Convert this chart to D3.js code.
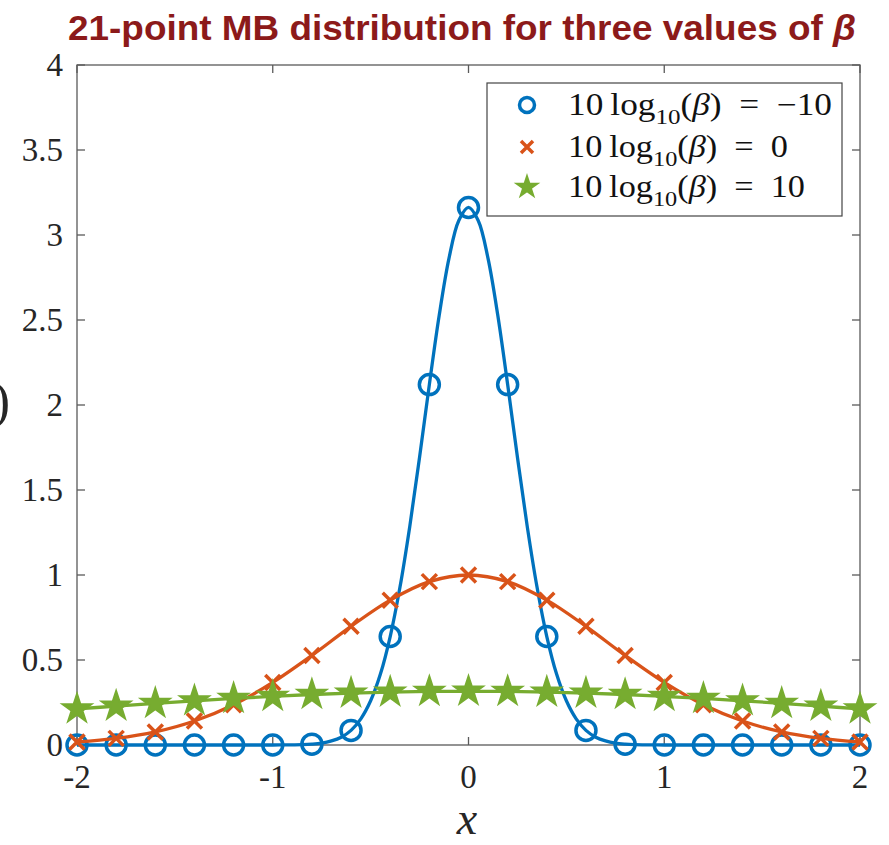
<!DOCTYPE html>
<html>
<head>
<meta charset="utf-8">
<script src="https://cdn.jsdelivr.net/npm/d3@7"></script>
<style>
  body { margin: 0; background: #fff; }
  svg text { font-family: "Liberation Serif", "DejaVu Serif", serif; }
</style>
</head>
<body>
<div id="chart"></div>
<script>
// marker positions (21 points)
const xPoints = [-2, -1.8, -1.6, -1.4, -1.2, -1, -0.8, -0.6, -0.4, -0.2, 0,
                 0.2, 0.4, 0.6, 0.8, 1, 1.2, 1.4, 1.6, 1.8, 2];
const blueMarkers = [0, 0, 0, 0, 0, 0.0001, 0.005, 0.086, 0.638, 2.12, 3.162,
                     2.12, 0.638, 0.086, 0.005, 0.0001, 0, 0, 0, 0, 0];
const orangeMarkers = [0.018, 0.039, 0.077, 0.141, 0.237, 0.368, 0.527, 0.698, 0.852, 0.961, 1.0,
                       0.961, 0.852, 0.698, 0.527, 0.368, 0.237, 0.141, 0.077, 0.039, 0.018];
const greenMarkers = [0.212, 0.229, 0.245, 0.26, 0.274, 0.286, 0.297, 0.305, 0.311, 0.315, 0.316,
                      0.315, 0.311, 0.305, 0.297, 0.286, 0.274, 0.26, 0.245, 0.229, 0.212];

// finer samples for the narrow blue curve
const xFine = [-2, -1.5, -1, -0.95, -0.9, -0.85, -0.8, -0.75, -0.7, -0.65, -0.6, -0.55, -0.5,
               -0.45, -0.4, -0.35, -0.3, -0.25, -0.2, -0.15, -0.1, -0.05, 0,
               0.05, 0.1, 0.15, 0.2, 0.25, 0.3, 0.35, 0.4, 0.45, 0.5, 0.55, 0.6,
               0.65, 0.7, 0.75, 0.8, 0.85, 0.9, 0.95, 1, 1.5, 2];
const blueFine = [0, 0, 0.0001, 0.0004, 0.001, 0.002, 0.005, 0.011, 0.024, 0.046, 0.086, 0.154, 0.26,
                  0.417, 0.638, 0.929, 1.286, 1.693, 2.12, 2.525, 2.861, 3.084, 3.162,
                  3.084, 2.861, 2.525, 2.12, 1.693, 1.286, 0.929, 0.638, 0.417, 0.26, 0.154, 0.086,
                  0.046, 0.024, 0.011, 0.005, 0.002, 0.001, 0.0004, 0.0001, 0, 0];

const seriesNames = ["-10", "0", "10"];
const seriesColors = ["#0072BD", "#D95319", "#77AC30"];
const xTicks = [-2, -1, 0, 1, 2];
const yTicks = [0, 0.5, 1, 1.5, 2, 2.5, 3, 3.5, 4];
const yTickLabels = ["0", "0.5", "1", "1.5", "2", "2.5", "3", "3.5", "4"];

const WIDTH = 889, HEIGHT = 845;
const LEFT = 77, RIGHT = 860, TOP = 65, BOTTOM = 745;

let svg = d3.select("#chart").append("svg")
    .attr("width", WIDTH)
    .attr("height", HEIGHT);

let xScale = d3.scaleLinear().domain([-2, 2]).range([LEFT, RIGHT]);
let yScale = d3.scaleLinear().domain([0, 4]).range([BOTTOM, TOP]);

// title
svg.append("text")
    .attr("x", 68)
    .attr("y", 40)
    .attr("textLength", 788)
    .attr("lengthAdjust", "spacingAndGlyphs")
    .style("font-family", "'Liberation Sans', Arial, sans-serif")
    .style("font-weight", "bold")
    .style("font-size", "35px")
    .attr("fill", "#8c1a1a")
    .text("21-point MB distribution for three values of ")
    .append("tspan")
    .style("font-style", "italic")
    .text("β");

// axes box
const AXIS_COLOR = "#5a5a5a";
svg.append("rect")
    .attr("x", LEFT).attr("y", TOP)
    .attr("width", RIGHT - LEFT).attr("height", BOTTOM - TOP)
    .attr("fill", "none")
    .attr("stroke", AXIS_COLOR)
    .attr("stroke-width", 1.3);

// ticks, inward on all four sides
const TICK = 8;
let tickG = svg.append("g").attr("stroke", AXIS_COLOR).attr("stroke-width", 1.3);
xTicks.forEach(t => {
    tickG.append("line").attr("x1", xScale(t)).attr("x2", xScale(t)).attr("y1", BOTTOM).attr("y2", BOTTOM - TICK);
    tickG.append("line").attr("x1", xScale(t)).attr("x2", xScale(t)).attr("y1", TOP).attr("y2", TOP + TICK);
});
yTicks.forEach(t => {
    tickG.append("line").attr("x1", LEFT).attr("x2", LEFT + TICK).attr("y1", yScale(t)).attr("y2", yScale(t));
    tickG.append("line").attr("x1", RIGHT).attr("x2", RIGHT - TICK).attr("y1", yScale(t)).attr("y2", yScale(t));
});

// tick labels
svg.append("g").selectAll("text")
    .data(xTicks)
    .enter().append("text")
    .attr("x", d => xScale(d))
    .attr("y", BOTTOM + 43)
    .attr("text-anchor", "middle")
    .style("font-size", "33px")
    .attr("fill", "#262626")
    .text(d => String(d));

svg.append("g").selectAll("text")
    .data(yTicks)
    .enter().append("text")
    .attr("x", LEFT - 14)
    .attr("y", d => yScale(d) + 11)
    .attr("text-anchor", "end")
    .style("font-size", "33px")
    .attr("fill", "#262626")
    .text((d, i) => yTickLabels[i]);

// axis labels
svg.append("text")
    .attr("x", 467)
    .attr("y", 834)
    .attr("text-anchor", "middle")
    .style("font-size", "46px")
    .style("font-style", "italic")
    .attr("fill", "#262626")
    .text("x");

svg.append("text")
    .attr("x", 10)
    .attr("y", 418)
    .attr("text-anchor", "end")
    .style("font-size", "52px")
    .attr("fill", "#262626")
    .text("f(x)");

// lines
let line = d3.line()
    .x(d => xScale(d[0]))
    .y(d => yScale(d[1]))
    .curve(d3.curveCatmullRom);

let lineData = [
    d3.zip(xFine, blueFine),
    d3.zip(xPoints, orangeMarkers),
    d3.zip(xPoints, greenMarkers)
];
let markerData = [
    d3.zip(xPoints, blueMarkers),
    d3.zip(xPoints, orangeMarkers),
    d3.zip(xPoints, greenMarkers)
];

const starPath = d3.symbol().type(d3.symbolStar);

function drawMarker(g, kind, x, y, size, color) {
    if (kind === 0) {
        g.append("circle")
            .attr("cx", x).attr("cy", y).attr("r", size)
            .attr("fill", "none")
            .attr("stroke", color)
            .attr("stroke-width", 3.5);
    } else if (kind === 1) {
        g.append("path")
            .attr("d", `M${x - size},${y - size}L${x + size},${y + size}M${x - size},${y + size}L${x + size},${y - size}`)
            .attr("stroke", color)
            .attr("stroke-width", 3.5)
            .attr("fill", "none");
    } else {
        g.append("path")
            .attr("d", starPath.size(size * size * 1.3)())
            .attr("transform", `translate(${x},${y})`)
            .attr("fill", color)
            .attr("stroke", color)
            .attr("stroke-width", 2);
    }
}

const markerSizes = [10, 7.5, 14];
for (let i = 0; i < 3; i++) {
    let g = svg.append("g");
    g.append("path")
        .datum(lineData[i])
        .attr("d", line)
        .attr("fill", "none")
        .attr("stroke", seriesColors[i])
        .attr("stroke-width", 3.3);
    markerData[i].forEach(d => {
        drawMarker(g, i, xScale(d[0]), yScale(d[1]), markerSizes[i], seriesColors[i]);
    });
}

// legend
let legend = svg.append("g");
legend.append("rect")
    .attr("x", 487).attr("y", 83)
    .attr("width", 355).attr("height", 133)
    .attr("fill", "#fff")
    .attr("stroke", "#444")
    .attr("stroke-width", 1.2);

const legendRows = [105, 147, 187];
const legendSizes = [7.5, 6, 10];
const legendWidths = [264, 220, 237];
seriesNames.forEach((name, i) => {
    drawMarker(legend, i, 527, legendRows[i], legendSizes[i], seriesColors[i]);
    let t = legend.append("text")
        .attr("x", 568)
        .attr("y", legendRows[i] + 10)
        .attr("textLength", legendWidths[i])
        .attr("lengthAdjust", "spacingAndGlyphs")
        .style("font-size", "31px")
        .attr("fill", "#111");
    t.append("tspan").text("10\u2009log");
    t.append("tspan").attr("dy", 9).style("font-size", "22px").text("10");
    t.append("tspan").attr("dy", -9).text("(");
    t.append("tspan").style("font-style", "italic").text("β");
    t.append("tspan").text(")\u2002=\u2002" + name.replace("-", "\u2212"));
});
</script>
</body>
</html>
